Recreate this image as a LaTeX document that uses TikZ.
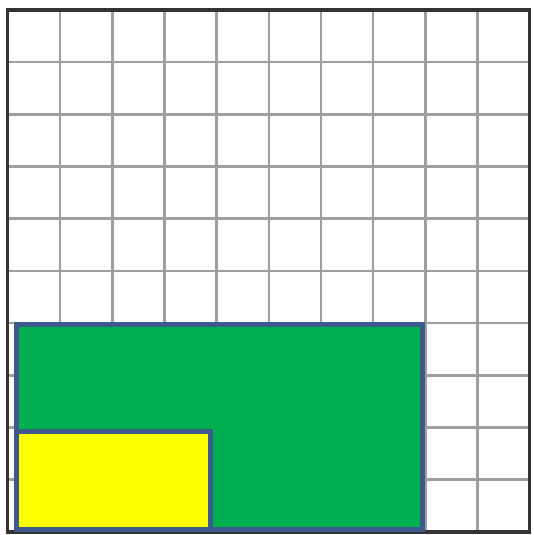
\documentclass[tikz,border=0pt]{standalone}
\usepackage{xcolor}
\definecolor{boxedge}{RGB}{60,90,140}
\definecolor{boxgreen}{RGB}{0,176,80}
\definecolor{boxyellow}{RGB}{255,255,0}

\begin{document}
\begin{tikzpicture}[gridline/.style={gray!75, line width=1.4pt},
    frame/.style={black!80, line width=1.8pt},
    area/.style={draw=boxedge, line width=2.6pt}]
  \useasboundingbox (-0.15,-0.06) rectangle (10.08,10.19);
  % grid 10 x 10
  \foreach \i in {1,...,9} {
    \draw[gridline] (\i,0) -- (\i,10);
    \draw[gridline] (0,\i) -- (10,\i);
  }
  \draw[frame] (0,0) rectangle (10,10);
  % shaded areas
  \draw[area, fill=boxgreen] (0.17,0.04) rectangle (7.95,3.98);
  \draw[area, fill=boxyellow] (0.17,0.04) rectangle (3.89,1.93);
\end{tikzpicture}
\end{document}
